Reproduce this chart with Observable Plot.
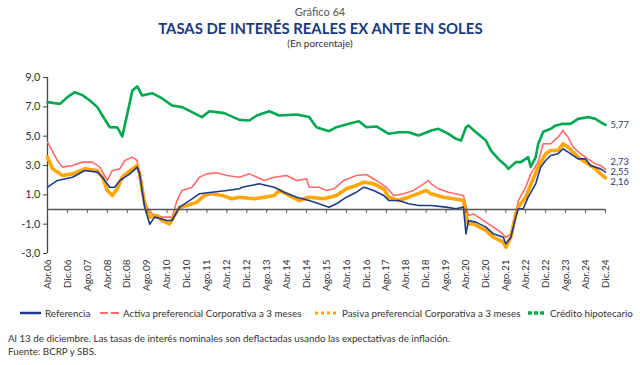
<!DOCTYPE html>
<html>
<head>
<meta charset="utf-8">
<script src="https://cdn.jsdelivr.net/npm/d3@7"></script>
<script src="https://cdn.jsdelivr.net/npm/@observablehq/plot@0.6"></script>
<style>
  html, body { margin: 0; padding: 0; background: #fff; }
  #wrap { position: relative; width: 640px; height: 365px; overflow: hidden; font-family: Lato, "Open Sans", sans-serif; }
  #chart { position: absolute; left: 0; top: 0; }
  .hdr { position: absolute; left: 0; width: 640px; text-align: center; white-space: nowrap; }
  #num { top: 5px; font-size: 11px; color: #555; }
  #title { top: 18px; font-size: 16px; font-weight: 700; color: #1b3a7e; }
  #title span { display: inline-block; transform: scaleX(0.93); transform-origin: center; }
  #sub { top: 37px; font-size: 10px; color: #333; }
  .leg { position: absolute; top: 306px; font-size: 9.8px; color: #333; white-space: nowrap; display: flex; align-items: center; height: 14px; }
  .leg svg { margin-right: 4px; }
  .note { position: absolute; left: 8px; font-size: 9.8px; color: #333; white-space: nowrap; }
</style>
</head>
<body>
<div id="wrap">
  <div id="chart"></div>
  <div class="hdr" id="num">Gráfico 64</div>
  <div class="hdr" id="title"><span>TASAS DE INTERÉS REALES EX ANTE EN SOLES</span></div>
  <div class="hdr" id="sub">(En porcentaje)</div>
  <div id="legend"></div>
  <div class="note" style="top:332px">Al 13 de diciembre. Las tasas de interés nominales son deflactadas usando las expectativas de inflación.</div>
  <div class="note" style="top:345px">Fuente: BCRP y SBS.</div>
</div>
<script>
// ---- Data ----
const xTickLabels = ["Abr.06","Dic.06","Ago.07","Abr.08","Dic.08","Ago.09","Abr.10","Dic.10","Ago.11","Abr.12","Dic.12","Ago.13","Abr.14","Dic.14","Ago.15","Abr.16","Dic.16","Ago.17","Abr.18","Dic.18","Ago.19","Abr.20","Dic.20","Ago.21","Abr.22","Dic.22","Ago.23","Abr.24","Dic.24"];
const yTicks = [-3, -1, 1, 3, 5, 7, 9];

const credito = [
  ["2006-04",7.32],["2006-09",7.2],["2006-12",7.66],["2007-03",8.0],["2007-06",7.8],["2007-09",7.43],["2007-12",6.98],
  ["2008-02",6.41],["2008-05",5.61],["2008-08",5.6],["2008-10",4.98],["2008-12",6.52],["2009-02",8.11],["2009-04",8.39],
  ["2009-06",7.77],["2009-10",7.93],["2010-02",7.57],["2010-06",7.09],["2010-10",6.98],["2011-02",6.64],["2011-06",6.3],
  ["2011-09",6.7],["2012-03",6.57],["2012-09",6.11],["2013-01",6.07],["2013-04",6.41],["2013-09",6.7],["2014-01",6.41],
  ["2014-08",6.48],["2015-01",6.3],["2015-04",5.61],["2015-09",5.34],["2015-12",5.61],["2016-05",5.84],["2016-09",6.02],
  ["2016-12",5.61],["2017-04",5.66],["2017-09",5.16],["2018-01",5.27],["2018-05",5.27],["2018-09",5.05],["2019-02",5.39],
  ["2019-05",5.5],["2019-09",5.16],["2019-12",4.82],["2020-02",4.7],["2020-04",5.61],["2020-05",5.73],["2020-08",5.27],
  ["2020-12",4.7],["2021-02",4.02],["2021-05",3.45],["2021-08",3.0],["2021-09",2.77],["2021-12",3.23],["2022-02",3.23],
  ["2022-05",3.57],["2022-06",2.9],["2022-08",3.57],["2022-09",4.48],["2022-11",5.3],["2023-02",5.5],["2023-04",5.73],
  ["2023-07",5.84],["2023-10",5.84],["2024-01",6.18],["2024-05",6.3],["2024-08",6.18],["2024-10",5.96],["2024-12",5.77]
];
const activa = [
  ["2006-04",4.59],["2006-08",3.34],["2006-10",2.89],["2007-02",3.0],["2007-06",3.23],["2007-10",3.23],["2008-01",2.89],
  ["2008-04",1.98],["2008-06",2.66],["2008-09",2.77],["2008-11",3.34],["2009-02",3.57],["2009-04",3.34],["2009-06",1.07],
  ["2009-08",0.16],["2009-10",-0.29],["2010-02",-0.52],["2010-06",-0.52],["2010-08",0.61],["2010-10",1.3],["2011-02",1.52],
  ["2011-05",2.2],["2011-08",2.43],["2011-12",2.5],["2012-04",2.32],["2012-09",2.2],["2013-01",2.43],["2013-07",1.98],
  ["2013-11",2.2],["2014-04",2.32],["2014-08",1.98],["2014-12",2.09],["2015-01",1.52],["2015-05",1.52],["2015-08",1.3],
  ["2015-11",1.41],["2016-03",1.98],["2016-08",2.32],["2016-12",2.39],["2017-04",1.98],["2017-08",1.52],["2017-11",0.96],
  ["2018-03",1.07],["2018-07",1.3],["2018-11",1.75],["2019-01",1.98],["2019-02",1.75],["2019-05",1.41],["2019-09",1.18],
  ["2020-03",0.96],["2020-04",0.27],["2020-05",-0.41],["2020-07",-0.3],["2020-12",-0.86],["2021-03",-1.2],["2021-06",-1.55],
  ["2021-08",-1.9],["2021-10",-1.66],["2021-12",-0.29],["2022-01",0.61],["2022-04",1.52],["2022-06",2.43],["2022-09",3.23],
  ["2022-11",4.48],["2023-02",4.48],["2023-05",4.93],["2023-07",5.39],["2023-09",4.93],["2023-11",4.25],["2024-02",3.8],
  ["2024-05",3.45],["2024-08",3.11],["2024-10",3.0],["2024-12",2.73]
];
const pasiva = [
  ["2006-04",3.57],["2006-06",2.77],["2006-10",2.32],["2007-02",2.43],["2007-07",2.77],["2007-12",2.66],["2008-02",2.2],
  ["2008-04",1.3],["2008-06",0.96],["2008-08",1.41],["2008-10",2.2],["2009-02",2.77],["2009-04",3.0],["2009-05",2.43],
  ["2009-07",0.39],["2009-09",-0.52],["2009-12",-0.41],["2010-02",-0.75],["2010-05",-0.98],["2010-07",-0.4],["2010-09",0.16],
  ["2010-12",0.27],["2011-04",0.5],["2011-07",0.96],["2011-10",1.07],["2012-02",0.96],["2012-06",0.73],["2012-09",0.84],
  ["2013-03",0.73],["2013-07",0.84],["2013-11",0.96],["2014-01",1.3],["2014-05",0.96],["2014-09",0.61],["2015-01",0.84],
  ["2015-07",0.73],["2015-12",0.96],["2016-04",1.41],["2016-08",1.64],["2016-11",1.86],["2017-03",1.75],["2017-07",1.41],
  ["2017-09",0.84],["2018-01",0.61],["2018-05",0.84],["2018-09",1.1],["2018-12",1.3],["2019-02",1.07],["2019-07",0.84],
  ["2019-11",0.73],["2020-03",0.61],["2020-04",-0.41],["2020-05",-0.98],["2020-07",-0.98],["2020-12",-1.43],["2021-03",-1.89],
  ["2021-07",-2.23],["2021-08",-2.57],["2021-10",-1.89],["2021-12",-0.29],["2022-01",0.16],["2022-04",0.84],["2022-07",2.09],
  ["2022-09",2.89],["2022-12",3.8],["2023-02",4.02],["2023-05",4.02],["2023-07",4.48],["2023-09",4.25],["2024-01",3.57],
  ["2024-05",3.11],["2024-08",2.77],["2024-10",2.43],["2024-12",2.16]
];
const referencia = [
  ["2006-04",1.52],["2006-08",1.98],["2007-02",2.2],["2007-07",2.66],["2007-12",2.55],["2008-02",2.2],["2008-05",1.52],
  ["2008-07",1.52],["2008-09",1.98],["2009-01",2.43],["2009-04",2.89],["2009-05",2.43],["2009-07",0.16],["2009-09",-1.0],
  ["2009-11",-0.52],["2010-04",-0.75],["2010-06",-0.75],["2010-09",0.16],["2011-01",0.61],["2011-05",1.07],["2011-10",1.18],
  ["2012-04",1.3],["2012-09",1.41],["2012-10",1.52],["2013-05",1.75],["2013-11",1.52],["2014-03",1.18],["2014-08",0.84],
  ["2015-01",0.61],["2015-05",0.39],["2015-09",0.16],["2015-12",0.39],["2016-04",0.84],["2016-08",1.18],["2016-11",1.52],
  ["2017-03",1.3],["2017-07",0.96],["2017-09",0.61],["2018-01",0.61],["2018-05",0.39],["2018-09",0.27],["2019-02",0.27],
  ["2019-08",0.16],["2019-12",0.05],["2020-03",0.16],["2020-04",-1.66],["2020-05",-0.75],["2020-08",-0.86],["2020-12",-1.2],
  ["2021-03",-1.66],["2021-07",-1.89],["2021-08",-2.34],["2021-10",-1.89],["2021-12",-0.52],["2022-01",0.05],["2022-03",0.05],
  ["2022-05",0.84],["2022-08",1.75],["2022-10",2.89],["2022-12",3.34],["2023-02",3.68],["2023-05",3.8],["2023-07",4.14],
  ["2023-09",3.91],["2024-01",3.45],["2024-04",3.45],["2024-06",3.0],["2024-10",2.77],["2024-12",2.55]
];

const seriesNames = ["Referencia", "Activa preferencial Corporativa a 3 meses", "Pasiva preferencial Corporativa a 3 meses", "Crédito hipotecario"];
const seriesColors = ["#1d3a8a", "#ff6b6b", "#ffa600", "#00a94f"];
const endValues = [2.55, 2.73, 2.16, 5.77];

// ---- Build ----
const mesIdx = {Ene:0,Feb:1,Mar:2,Abr:3,May:4,Jun:5,Jul:6,Ago:7,Set:8,Oct:9,Nov:10,Dic:11};
const tickDates = xTickLabels.map(l => { const [m, y] = l.split("."); return new Date(Date.UTC(2000 + +y, mesIdx[m], 1)); });
const labelOf = new Map(tickDates.map((d, i) => [+d, xTickLabels[i]]));
const parse = d3.utcParse("%Y-%m");
const fmt1 = d => d.toFixed(1).replace(".", ",");
const fmt2 = d => d.toFixed(2).replace(".", ",");

const seriesData = [referencia, activa, pasiva, credito];
const rows = seriesData.map((arr, i) => arr.map(([d, v]) => ({serie: seriesNames[i], date: parse(d), value: v})));
const widths = [1.6, 1.6, 3.6, 2.6];
const drawOrder = [3, 1, 2, 0];
const labelDy = [0, -7, 4, 0];

const lineMarks = drawOrder.map(i => Plot.line(rows[i], {x: "date", y: "value", stroke: seriesColors[i], strokeWidth: widths[i], strokeLinejoin: "round", strokeLinecap: "round"}));
const endMarks = seriesData.map((arr, i) => Plot.text([{date: parse(arr[arr.length - 1][0]), value: endValues[i]}], {
  x: "date", y: "value", text: d => fmt2(d.value),
  dx: 5, dy: labelDy[i], textAnchor: "start", fill: "#2b3766", fontSize: 9.3
}));

const chart = Plot.plot({
  width: 640,
  height: 300,
  marginTop: 77,
  marginBottom: 47,
  marginLeft: 47,
  marginRight: 35,
  x: {type: "utc", domain: [tickDates[0], tickDates[tickDates.length - 1]]},
  y: {domain: [-3, 9]},
  style: {fontFamily: "Lato, 'Open Sans', sans-serif", color: "#333", background: "transparent"},
  marks: [
    Plot.axisY({ticks: yTicks, tickFormat: fmt1, tickSize: 4, tickPadding: 3, fontSize: 11, label: null, stroke: "#444"}),
    Plot.ruleX([tickDates[0]], {stroke: "#444", strokeWidth: 1.3}),
    Plot.axisX({ticks: tickDates, tickFormat: d => labelOf.get(+d), tickRotate: -90, tickSize: 0, tickPadding: 6, fontSize: 10, label: null}),
    ...lineMarks,
    Plot.ruleY([0], {stroke: "#555", strokeWidth: 1.5}),
    Plot.ruleX(tickDates, {y1: 0, y2: 0, insetBottom: -4, stroke: "#555", strokeWidth: 1}),
    ...endMarks
  ]
});
document.getElementById("chart").appendChild(chart);

// ---- Legend ----
const legendLeft = [20, 100, 315, 528];
const legendSamples = [
  {w: 21, sw: 2.5, dash: null},
  {w: 19, sw: 2, dash: "8,3"},
  {w: 23, sw: 3, dash: "3,3"},
  {w: 18, sw: 3.5, dash: "4,2"}
];
const legend = document.getElementById("legend");
seriesNames.forEach((name, i) => {
  const s = legendSamples[i];
  const div = document.createElement("div");
  div.className = "leg";
  div.style.left = legendLeft[i] + "px";
  div.innerHTML = `<svg width="${s.w}" height="6"><line x1="0" y1="3" x2="${s.w}" y2="3" stroke="${seriesColors[i]}" stroke-width="${s.sw}" ${s.dash ? `stroke-dasharray="${s.dash}"` : ""}/></svg><span>${name}</span>`;
  legend.appendChild(div);
});
</script>
</body>
</html>
